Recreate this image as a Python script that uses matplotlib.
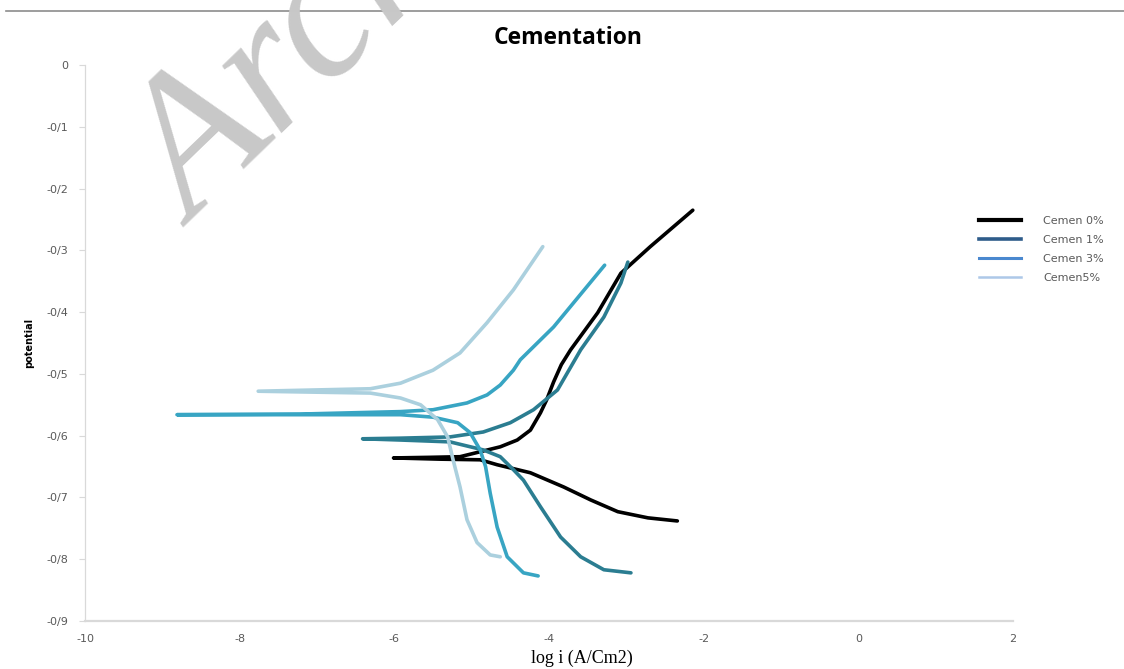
import matplotlib
matplotlib.use("Agg")
import matplotlib.pyplot as plt
from matplotlib.lines import Line2D

# ---- data: log i vs potential (cathodic end -> tip -> anodic end) ----
x0 = [-2.34, -2.72, -3.11, -3.46, -3.81, -4.24, -4.67, -4.89, -5.40, -6.01,
      -5.53, -5.15, -4.89, -4.63, -4.41, -4.24, -4.11, -4.03, -3.94, -3.84, -3.72, -3.37, -3.07, -2.69, -2.14]
y0 = [-0.738, -0.733, -0.723, -0.704, -0.683, -0.660, -0.647, -0.639, -0.638, -0.636,
      -0.635, -0.634, -0.626, -0.618, -0.607, -0.591, -0.563, -0.542, -0.513, -0.485, -0.461, -0.401, -0.337, -0.294, -0.235]

x1 = [-2.94, -3.29, -3.59, -3.85, -4.11, -4.33, -4.46, -4.63, -4.85, -5.28, -5.92, -6.41,
      -5.92, -5.28, -4.85, -4.50, -4.20, -3.89, -3.59, -3.29, -3.07, -2.98]
y1 = [-0.822, -0.817, -0.796, -0.764, -0.715, -0.672, -0.655, -0.634, -0.623, -0.610, -0.607, -0.605,
      -0.604, -0.602, -0.594, -0.579, -0.558, -0.526, -0.461, -0.408, -0.353, -0.319]

x3 = [-4.14, -4.33, -4.54, -4.67, -4.76, -4.82, -4.89, -5.02, -5.18, -5.50, -5.92, -7.22, -8.81,
      -7.22, -5.92, -5.50, -5.06, -4.80, -4.63, -4.46, -4.37, -3.94, -3.28]
y3 = [-0.827, -0.822, -0.796, -0.748, -0.693, -0.650, -0.623, -0.595, -0.579, -0.570, -0.566, -0.566, -0.566,
      -0.565, -0.561, -0.558, -0.547, -0.534, -0.518, -0.494, -0.477, -0.424, -0.324]

x5 = [-4.63, -4.76, -4.93, -5.06, -5.15, -5.24, -5.31, -5.44, -5.66, -5.92, -6.31, -7.76,
      -6.31, -5.92, -5.50, -5.15, -4.80, -4.46, -4.08]
y5 = [-0.796, -0.793, -0.773, -0.736, -0.683, -0.639, -0.602, -0.574, -0.550, -0.539, -0.531, -0.528,
      -0.524, -0.515, -0.494, -0.466, -0.417, -0.364, -0.294]

labels = ["Cemen 0%", "Cemen 1%", "Cemen 3%", "Cemen5%"]
curve_colors = ["#000000", "#2B7D91", "#38A5C3", "#ABD0DE"]
legend_colors = ["#000000", "#2E5C8A", "#4A88CF", "#ADC8E8"]
legend_lw = [3.0, 2.6, 2.2, 1.8]

xticks = [-10, -8, -6, -4, -2, 0, 2]
yticks = [0, -0.1, -0.2, -0.3, -0.4, -0.5, -0.6, -0.7, -0.8, -0.9]
ytick_labels = ["0", "-0/1", "-0/2", "-0/3", "-0/4", "-0/5", "-0/6", "-0/7", "-0/8", "-0/9"]

GREY = "#595959"
fig = plt.figure(figsize=(11.24, 6.69), dpi=100)
ax = fig.add_axes([0.0756, 0.0717, 0.8256, 0.8311])

for xs, ys, c in zip([x0, x1, x3, x5], [y0, y1, y3, y5], curve_colors):
    ax.plot(xs, ys, color=c, lw=2.6, solid_capstyle="round", solid_joinstyle="round")

ax.set_xlim(-10, 2); ax.set_ylim(-0.9, 0)
ax.set_xticks(xticks); ax.set_xticklabels([str(t) for t in xticks])
ax.set_yticks(yticks); ax.set_yticklabels(ytick_labels)
ax.tick_params(axis="x", length=0, pad=9, labelsize=8, labelcolor=GREY)
ax.tick_params(axis="y", length=4, width=0.8, color="#D9D9D9", pad=8, labelsize=8, labelcolor=GREY)
for s in ["top", "right"]:
    ax.spines[s].set_visible(False)
ax.spines["left"].set_color("#D9D9D9"); ax.spines["left"].set_linewidth(0.9)
ax.spines["bottom"].set_color("#D9D9D9"); ax.spines["bottom"].set_linewidth(1.6)

fig.text(568/1124, 1-38/669, "Cementation", ha="center", va="center",
         fontsize=16.5, fontweight="bold", family="Open Sans")
ax.set_ylabel("potential", fontsize=7, fontweight="bold", labelpad=9)
fig.text(582/1124, 1-658/669, "log i (A/Cm2)", ha="center", va="center",
         fontsize=13, family="Liberation Serif")

handles = [Line2D([], [], color=c, lw=w) for c, w in zip(legend_colors, legend_lw)]
fig.legend(handles, labels, loc="upper left", bbox_to_anchor=(969/1124, 1-206/669),
           frameon=False, fontsize=8, handlelength=3.8, handletextpad=2.0, labelspacing=0.8,
           labelcolor=GREY)

# page rule and watermark
fig.add_artist(Line2D([6/1124, 1], [1-11/669, 1-11/669], color="#8C8C8C", lw=1.2))
fig.text(194/1124, 1-228/669, "Archive of SID", rotation=44, rotation_mode="anchor",
         ha="left", va="baseline", fontsize=140, family="Liberation Serif", style="italic",
         color="#C8C8C8", zorder=10)

fig.savefig("out.png", dpi=100)
